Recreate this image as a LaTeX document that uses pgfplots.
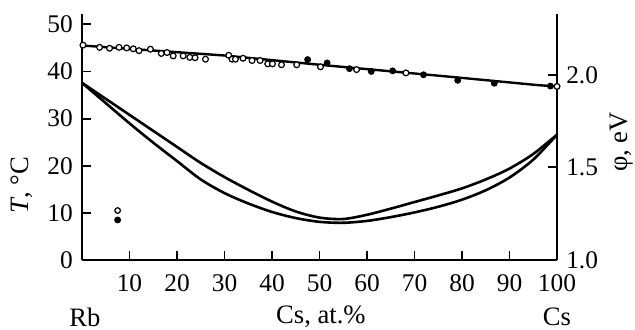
\documentclass[border=0pt]{standalone}
\usepackage{fontspec}
\setmainfont{Liberation Serif}
\usepackage{pgfplots}
\pgfplotsset{compat=1.18}
\begin{document}
\fontsize{13.3}{16}\selectfont
\begin{tikzpicture}
\pgfplotsset{
  every axis/.append style={
    scale only axis, width=237.5pt, height=123pt, xmin=0, xmax=100,
    at={(0,0)}, anchor=south west, clip=false,
    tick align=inside, major tick length=4.5pt,
    axis line style={line width=1pt,-},
    every tick/.style={line width=0.9pt, black},
    tick label style={font=\fontsize{12.7}{15}\selectfont},
    /pgf/number format/assume math mode=true,
  }
}
\begin{axis}[axis x line*=bottom, axis y line*=left, ymin=0, ymax=52.2,
  xtick={10,20,...,100}, ytick={0,10,...,50},
  xticklabel style={yshift=-2.5pt}]
% upper curve (liquidus)
\addplot[smooth, line width=1.3pt] coordinates {
 (0,37.6) (5,34.2) (10,30.8) (15,27.4) (20,24.0) (25,20.6) (30,17.6) (35,14.9)
 (40,12.4) (45,10.3) (50,9.0) (55,8.7) (60,9.6) (65,10.9) (70,12.3) (75,13.7)
 (80,15.2) (85,17.1) (90,19.4) (95,22.5) (100,26.6)};
% lower curve (solidus)
\addplot[smooth, line width=1.3pt] coordinates {
 (0,37.6) (5,33.3) (10,29.0) (15,24.9) (20,21.0) (25,17.1) (30,14.2) (35,12.0)
 (40,10.2) (45,8.9) (50,8.1) (55,7.9) (60,8.3) (65,9.1) (70,10.1) (75,11.3)
 (80,12.8) (85,14.8) (90,17.5) (95,21.3) (100,26.6)};
% isolated markers
\addplot[only marks, mark=*, mark size=1.4pt, mark options={fill=white, draw=black, line width=0.6pt}] coordinates {(7.5,10.5)};
\addplot[only marks, mark=*, mark size=1.5pt, mark options={fill=black, draw=black}] coordinates {(7.5,8.5)};
\node[rotate=90] at (axis description cs:-0.126,0.305) {\textit{T}, °C};
\node at (axis description cs:0.006,-0.232) {Rb};
\node at (axis description cs:0.503,-0.232) {Cs, at.\%};
\node at (axis description cs:1.0,-0.232) {Cs};
\node[rotate=90] at (axis description cs:1.137,0.48) {φ, eV};
\end{axis}
\begin{axis}[axis x line=none, axis y line*=right, ymin=1, ymax=2.328,
  ytick={1,1.5,2},
  yticklabel style={/pgf/number format/.cd, fixed, fixed zerofill, precision=1}]
\addplot[line width=1.2pt] coordinates {(0,2.158) (30,2.104) (50,2.054) (78,1.988) (96,1.944) (100,1.937)};
\addplot[only marks, mark=*, mark size=1.5pt, mark options={fill=black, draw=black}] coordinates {
 (47.5,2.082) (51.6,2.064) (56.3,2.033) (60.9,2.018) (65.4,2.021) (71.9,2.000)
 (79.1,1.970) (86.8,1.954) (98.6,1.939)};
\addplot[only marks, mark=*, mark size=1.45pt, mark options={fill=white, draw=black, line width=0.6pt}] coordinates {
 (0.2,2.160) (3.7,2.148) (5.8,2.143) (7.8,2.148) (9.4,2.145) (10.8,2.140) (12.0,2.130)
 (14.4,2.138) (16.7,2.115) (17.9,2.120) (19.2,2.102) (21.3,2.102) (22.7,2.094)
 (23.8,2.092) (26.0,2.084) (30.9,2.105) (31.6,2.084) (32.3,2.084) (33.9,2.089)
 (35.8,2.077) (37.5,2.077) (39.1,2.059) (40.1,2.059) (42.0,2.054) (45.2,2.054)
 (50.2,2.043) (57.8,2.028) (68.2,2.010) (100,1.937)};
\end{axis}
\pgfresetboundingbox
\path[use as bounding box] (-41pt,-34.5pt) rectangle (276.5pt,130pt);
\end{tikzpicture}
\end{document}
